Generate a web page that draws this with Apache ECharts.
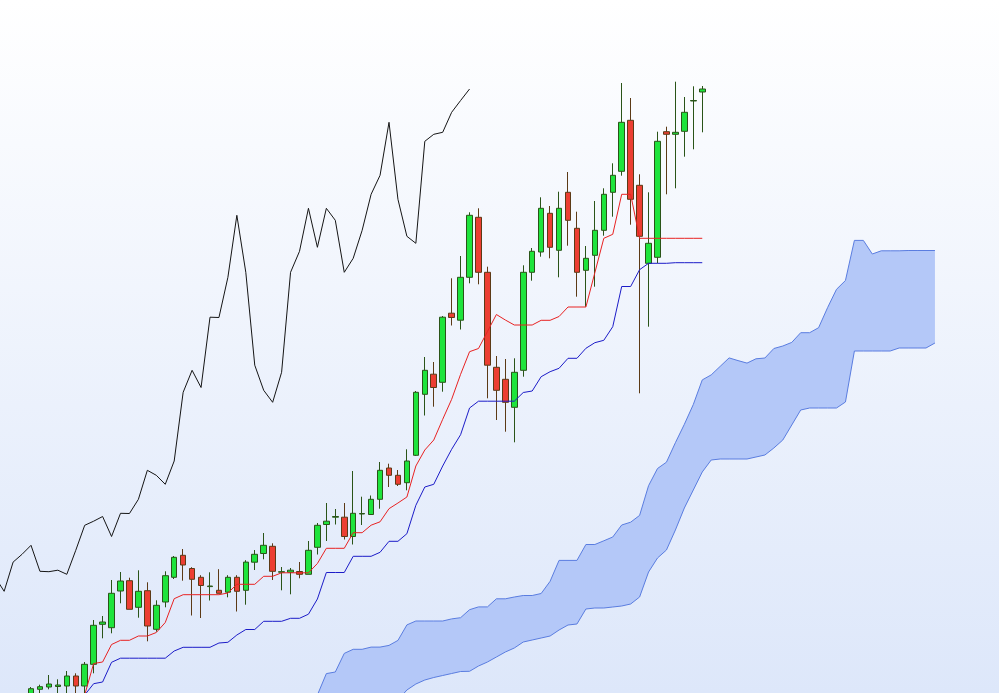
<!DOCTYPE html>
<html><head><meta charset="utf-8">
<script src="https://cdn.jsdelivr.net/npm/echarts/dist/echarts.min.js"></script>
<style>html,body{margin:0;padding:0;background:#fff;} #c{width:999px;height:693px;}</style>
</head><body><div id="c"></div>
<script>
// OHLC (price units)
const opens = [
30.3,31.07,31.3,31.35,31.4,32.4,31.4,33.57,37.57,37.23,
40.9,41.93,39.27,40.93,37.07,39.8,42.27,44.47,43.15,42.27,
41.34,40.97,40.78,42.27,40.97,43.78,44.65,45.37,42.78,42.78,
42.85,42.57,45.27,47.55,48.28,48.28,46.35,48.6,48.55,50.07,
53.2,52.47,51.73,54.47,60.57,62.58,61.77,68.68,67.98,72.27,
78.27,72.77,63.27,62.07,59.27,62.97,72.77,74.8,78.67,74.97,
80.77,77.17,72.97,74.47,76.97,80.77,82.87,87.97,81.47,73.67,
74.27,86.83,86.57,86.87,89.9,90.8];
const closes = [
31.13,31.33,31.6,31.5,32.4,31.4,33.57,37.47,37.8,40.67,
41.9,39.07,40.87,37.4,39.47,42.43,44.27,43.5,42.07,41.45,
41.4,40.67,42.27,40.87,43.79,44.57,45.47,42.87,42.83,42.98,
42.57,44.97,47.47,47.88,48.35,46.35,48.67,48.65,50.07,52.97,
52.47,51.57,53.9,60.77,62.97,61.25,68.28,68.25,72.27,78.47,
72.77,63.48,60.97,59.77,62.77,72.77,74.87,79.17,75.27,79.17,
77.97,72.77,74.17,76.97,80.57,82.47,87.77,80.07,76.37,75.67,
85.87,86.57,86.77,88.77,89.95,91.1];
const lows = [
30.1,30.6,31.07,30.7,30.5,30.5,30.7,32.67,36.17,36.67,
39.67,39.07,38.23,35.87,36.83,39.27,42.1,41.93,38.45,38.2,
39.95,40.67,40.27,38.85,39.53,43.0,44.07,42.0,40.97,40.57,
42.17,42.57,44.55,45.9,47.55,46.05,45.55,47.5,48.55,49.13,
51.3,51.4,50.97,54.4,58.45,59.33,60.83,67.45,67.05,71.67,
71.57,60.17,58.0,56.83,55.77,62.33,71.93,74.33,74.17,72.27,
75.43,70.33,69.33,71.33,76.43,78.33,82.43,77.53,60.67,67.33,
73.67,80.57,81.17,84.33,85.07,86.77];
const highs = [
31.3,31.53,32.5,32.07,32.9,32.67,33.8,38.0,38.4,42.0,
42.8,42.23,42.97,41.77,39.97,42.87,44.4,45.1,43.28,42.48,
42.77,43.08,42.48,42.48,43.98,45.0,46.7,45.67,43.3,43.2,
43.8,45.9,47.7,49.7,49.1,49.7,52.9,50.33,50.45,53.8,
53.63,53.0,55.07,60.9,64.3,63.8,68.4,72.17,74.4,78.77,
79.17,73.33,64.4,64.1,64.17,73.47,75.2,80.27,79.4,80.83,
82.8,78.83,75.4,79.9,81.17,83.67,91.7,90.2,82.57,80.77,
86.83,87.33,91.83,90.3,91.37,91.4];
// Tenkan-sen (conversion line) and Kijun-sen (base line), one per candle
const tenkan = [
null,null,null,null,null,28.0,30.5,33.65,33.8,35.55,
35.97,35.97,36.4,36.4,36.75,37.75,40.13,40.53,40.53,40.53,
40.53,40.53,40.7,41.57,41.57,41.57,42.37,42.37,42.72,42.72,
42.72,42.72,43.65,45.17,45.17,45.17,46.73,46.73,47.48,47.82,
49.13,49.7,50.3,53.4,55.0,56.0,58.07,60.07,62.57,64.83,
65.15,66.85,68.55,68.0,67.5,67.5,67.5,67.97,67.97,68.35,
69.3,69.3,69.3,72.73,76.17,76.57,80.57,80.57,76.17,76.17,
76.17,76.17,76.17,76.17,76.17,76.17];
const kijun = [
null,null,null,null,null,28.5,30.5,31.63,31.8,33.77,
34.18,34.18,34.18,34.18,34.18,34.18,34.9,35.27,35.27,35.27,
35.27,35.7,35.77,36.5,37.05,37.05,37.87,37.87,37.87,38.17,
38.17,38.58,40.1,42.75,42.75,42.75,44.37,44.37,44.37,44.77,
45.87,45.87,46.63,49.47,51.3,51.57,53.4,55.07,56.53,59.2,
59.88,59.88,59.88,59.88,59.88,60.75,60.9,62.33,62.83,63.17,
64.17,64.17,65.17,65.73,65.97,67.33,71.35,71.35,73.03,73.67,
73.67,73.67,73.73,73.73,73.73,73.73];
// Senkou spans (cloud), starting at bar index cloudFrom (already displaced forward)
const cloudFrom = 32;
const spanA = [
30.5,32.64,32.8,34.66,35.07,35.07,35.29,35.29,35.46,35.96,
37.51,37.9,37.9,37.9,37.9,38.11,38.23,39.03,39.31,39.31,
40.12,40.12,40.3,40.45,40.45,40.65,41.87,43.96,43.96,43.96,
45.55,45.55,45.92,46.3,47.5,47.78,48.46,51.43,53.15,53.78,
55.73,57.57,59.55,62.01,62.51,63.36,64.21,63.94,63.69,64.12,
64.2,65.15,65.4,65.76,66.73,66.73,67.23,69.23,71.07,71.95,
75.96,75.96,74.6,74.92,74.92,74.92,74.95,74.95,74.95,74.95];
const spanB = [
26.0,26.5,27.0,27.3,27.6,28.0,28.4,28.7,29.0,30.0,
31.0,31.6,32.0,32.25,32.45,32.65,32.85,32.87,33.4,33.8,
34.3,34.8,35.2,35.8,36.0,36.2,36.4,37.0,37.5,37.6,
39.1,39.2,39.2,39.3,39.4,39.6,40.3,42.8,44.2,45.0,
47.0,49.2,51.0,52.8,54.0,54.1,54.1,54.1,54.1,54.3,
54.5,55.2,56.0,57.5,59.0,59.2,59.2,59.2,59.2,59.8,
64.9,64.9,64.9,64.9,64.9,65.2,65.2,65.2,65.2,65.7];

const SHIFT = 26, N = opens.length;
const candleData = opens.map((o, i) => [i, o, closes[i], lows[i], highs[i]]);
const pairs = (arr, off) => arr.map((v, i) => v == null ? null : [i + off, v]).filter(p => p);
const tenkanData = pairs(tenkan, 0);
const kijunData = pairs(kijun, 0);
const chikouData = pairs(closes, -SHIFT);
const spanAData = pairs(spanA, cloudFrom);
const spanBData = pairs(spanB, cloudFrom);

// bar spacing 8.95px, first candle centred at x=31px
const xMin = -31 / 8.95, xMax = xMin + 999 / 8.95;

const chart = echarts.init(document.getElementById('c'), null, {renderer: 'canvas'});
chart.setOption({
  animation: false,
  backgroundColor: new echarts.graphic.LinearGradient(0, 0, 0, 1, [
    {offset: 0, color: '#ffffff'}, {offset: 1, color: '#dde7fa'}]),
  grid: {left: 0, right: 0, top: 0, bottom: 0},
  xAxis: {type: 'value', min: xMin, max: xMax, show: false, splitLine: {show: false}},
  yAxis: {type: 'value', min: 30.7, max: 100, show: false, splitLine: {show: false}},
  series: [
    {type: 'custom', name: 'cloud', data: [spanAData[0]], z: 1, silent: true,
     renderItem: (params, api) => {
       const pts = spanAData.map(p => api.coord(p));
       for (let k = spanBData.length - 1; k >= 0; k--) pts.push(api.coord(spanBData[k]));
       return {type: 'polygon', shape: {points: pts}, style: {fill: '#b4c8f8', stroke: null}};
     }},
    {type: 'line', name: 'spanA', data: spanAData, symbol: 'none',
     lineStyle: {color: '#5a7de0', width: 1}, z: 1},
    {type: 'line', name: 'spanB', data: spanBData, symbol: 'none',
     lineStyle: {color: '#5a7de0', width: 1}, z: 1},
    {type: 'candlestick', data: candleData, encode: {x: 0, y: [1, 2, 3, 4]}, barWidth: 6,
     itemStyle: {color: '#1ee43c', color0: '#ec3e32', borderColor: '#2a5418',
       borderColor0: '#5c3a16', borderColorDoji: '#2a5418', borderWidth: 1}, z: 2},
    {type: 'line', name: 'chikou', data: chikouData, symbol: 'none',
     lineStyle: {color: '#151515', width: 1}, z: 3},
    {type: 'line', name: 'kijun', data: kijunData, symbol: 'none',
     lineStyle: {color: '#1c1cc8', width: 1}, z: 3},
    {type: 'line', name: 'tenkan', data: tenkanData, symbol: 'none',
     lineStyle: {color: '#e82222', width: 1}, z: 3}
  ]
});
</script></body></html>
